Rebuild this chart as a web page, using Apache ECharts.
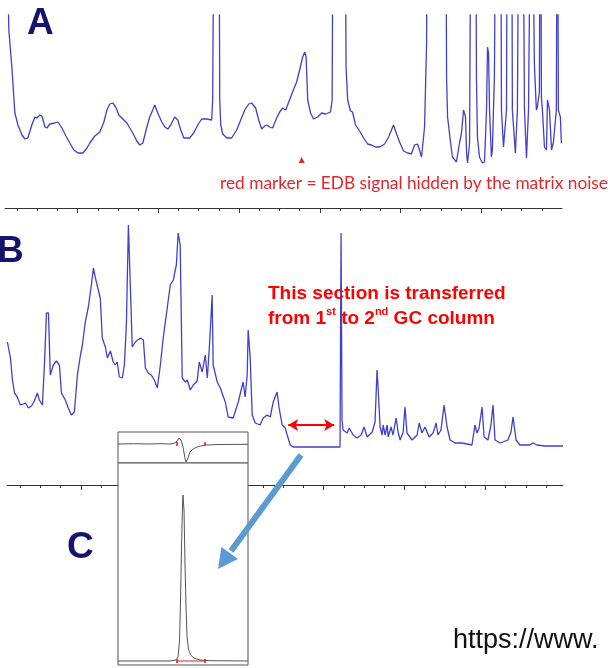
<!DOCTYPE html>
<html>
<head>
<meta charset="utf-8">
<script src="https://cdn.jsdelivr.net/npm/echarts@6/dist/echarts.min.js"></script>
<style>html,body{margin:0;padding:0;background:#fff}#c{width:608px;height:668px}</style>
</head>
<body>
<div id="c"></div>
<script>
// ---- Panel A: 1D GC chromatogram (time in min, signal in counts) ----
const aTrace = [[0.52,250],[0.59,178],[0.74,141],[0.89,95],[1.04,83],[1.24,73],[1.39,69],[1.53,70],[1.73,83],[1.88,91],[1.98,90],[2.13,93],[2.23,92],[2.38,81],[2.48,80],[2.62,84],[2.87,85],[3.02,86],[3.22,80],[3.42,72],[3.61,65],[3.81,58],[4.01,55],[4.26,55],[4.46,60],[4.60,65],[4.85,72],[5.10,76],[5.30,86],[5.45,98],[5.59,104],[5.74,105],[5.89,101],[6.04,93],[6.19,90],[6.44,85],[6.73,75],[6.93,67],[7.08,63],[7.23,65],[7.43,81],[7.57,91],[7.72,98],[7.82,103],[7.97,95],[8.17,86],[8.32,81],[8.47,79],[8.61,83],[8.81,91],[8.96,88],[9.11,78],[9.26,70],[9.55,70],[9.75,75],[9.95,83],[10.15,89],[10.40,89],[10.64,88],[10.69,108],[10.79,420],[10.99,420],[11.04,108],[11.09,83],[11.19,74],[11.39,70],[11.63,70],[11.88,78],[12.08,88],[12.28,98],[12.48,104],[12.62,105],[12.82,100],[12.97,88],[13.12,79],[13.27,82],[13.37,83],[13.51,81],[13.66,80],[13.86,90],[14.01,96],[14.16,100],[14.31,98],[14.46,106],[14.65,116],[14.85,126],[15.00,138],[15.15,151],[15.25,156],[15.32,151],[15.40,108],[15.54,95],[15.69,89],[15.89,91],[16.09,95],[16.29,94],[16.53,96],[16.61,108],[16.68,420],[17.23,420],[17.30,141],[17.38,108],[17.52,97],[17.62,96],[17.77,83],[17.97,77],[18.17,70],[18.37,64],[18.56,63],[18.76,61],[18.96,61],[19.21,64],[19.41,71],[19.55,78],[19.65,83],[19.75,77],[19.95,66],[20.15,57],[20.35,55],[20.54,54],[20.69,63],[20.84,64],[20.94,58],[21.04,51],[21.19,81],[21.29,165],[21.34,420],[22.23,420],[22.28,131],[22.33,91],[22.48,65],[22.57,51],[22.77,46],[22.82,48],[22.92,65],[23.02,75],[23.12,98],[23.22,91],[23.27,55],[23.32,45],[23.42,65],[23.51,420],[23.71,420],[23.76,131],[23.81,71],[23.91,51],[24.06,45],[24.16,46],[24.26,98],[24.31,161],[24.36,155],[24.41,98],[24.50,51],[24.55,58],[24.65,131],[24.75,420],[24.95,420],[25.00,98],[25.10,61],[25.25,98],[25.30,420],[25.50,420],[25.54,98],[25.69,55],[25.79,98],[25.89,420],[26.04,420],[26.14,98],[26.24,50],[26.34,98],[26.49,420],[26.53,420],[26.63,145],[26.73,98],[26.78,101],[26.88,116],[26.93,420],[26.98,111],[27.03,98],[27.13,61],[27.23,58],[27.28,108],[27.38,98],[27.48,58],[27.57,65],[27.72,98],[27.77,420],[27.82,98],[27.92,91],[27.97,65]];
const aMarker = [15.1, 48];              // EDB position (time, signal)
const aMajorTicks = [4, 8, 12, 16, 20, 24];
const aMinorTicks = [1,2,3,5,6,7,9,10,11,13,14,15,17,18,19,21,22,23,25,26,27];

// ---- Panel B: chromatogram with heart-cut window ----
const bTrace = [[0.37,143],[0.52,127],[0.62,105],[0.72,92],[0.86,88],[1.01,80],[1.16,81],[1.26,82],[1.41,77],[1.56,79],[1.70,84],[1.85,92],[1.95,85],[2.10,80],[2.20,120],[2.30,172],[2.40,172],[2.49,110],[2.64,120],[2.79,124],[2.94,120],[3.04,92],[3.23,85],[3.38,77],[3.53,70],[3.68,73],[3.83,110],[3.98,130],[4.07,139],[4.22,163],[4.37,178],[4.52,200],[4.62,217],[4.72,207],[4.81,205],[4.96,187],[5.06,147],[5.21,138],[5.31,127],[5.46,134],[5.60,123],[5.70,120],[5.80,123],[5.90,108],[6.05,107],[6.15,120],[6.25,160],[6.35,260],[6.44,203],[6.54,138],[6.69,143],[6.94,147],[7.09,145],[7.19,117],[7.33,112],[7.48,110],[7.63,105],[7.78,97],[7.93,120],[8.07,147],[8.27,177],[8.42,200],[8.57,205],[8.72,220],[8.81,252],[8.91,240],[9.01,107],[9.16,103],[9.26,105],[9.41,95],[9.56,100],[9.75,104],[9.85,123],[10.0,113],[10.15,130],[10.25,107],[10.35,137],[10.49,190],[10.54,120],[10.74,103],[10.89,97],[11.14,83],[11.28,68],[11.53,67],[11.78,83],[12.02,103],[12.12,88],[12.22,110],[12.27,155],[12.37,127],[12.47,70],[12.62,62],[12.86,60],[13.01,67],[13.21,70],[13.36,68],[13.51,83],[13.70,93],[13.80,77],[13.95,60],[14.10,57],[14.20,50],[14.35,40],[14.49,38],[16.81,38],[16.86,252],[16.91,65],[16.96,55],[17.16,52],[17.26,57],[17.46,50],[17.65,47],[17.85,50],[18.00,58],[18.15,48],[18.40,53],[18.54,63],[18.64,115],[18.69,98],[18.79,58],[18.89,50],[18.94,60],[19.04,50],[19.14,60],[19.19,48],[19.33,58],[19.43,50],[19.58,67],[19.68,53],[19.78,45],[19.93,53],[20.02,78],[20.12,52],[20.37,45],[20.62,50],[20.72,62],[20.86,52],[21.01,58],[21.11,53],[21.21,48],[21.41,52],[21.56,62],[21.65,50],[21.80,55],[21.95,80],[22.10,58],[22.25,45],[22.49,42],[22.84,42],[23.33,40],[23.48,60],[23.58,52],[23.68,57],[23.83,78],[23.93,48],[24.12,45],[24.27,60],[24.37,80],[24.47,45],[24.72,42],[25.11,45],[25.26,53],[25.36,68],[25.51,45],[25.70,40],[26.20,40],[26.35,42],[26.54,40],[26.94,39],[27.83,39]];
const bCutWindow = [14.25, 16.52];      // transferred section (min)
const bCutLevel = 60;
const bMajorTicks = [4, 8, 12, 16, 20, 24];
const bMinorTicks = [1,2,3,5,6,7,9,10,11,13,14,15,17,18,19,21,22,23,25,26,27];

// ---- Panel C: 2nd column (inset) ----
const c1Trace = [[0,0],[1.2,0.3],[2.46,0],[3.3,0.3],[4.0,0],[4.38,1],[4.54,3],[4.69,6],[4.85,4],[5.0,-3],[5.15,-14],[5.23,-18],[5.38,-14],[5.54,-8],[5.77,-5],[6.08,-3],[6.69,-1],[7.85,-0.5],[10,-0.3]];
const c2Trace = [[0,0],[2.0,0],[4.0,0],[4.46,1],[4.62,4],[4.73,20],[4.81,60],[4.88,110],[4.96,155],[5.0,166],[5.08,150],[5.15,100],[5.23,55],[5.31,25],[5.42,12],[5.58,6],[5.85,3],[6.31,1],[7.08,0.3],[10,0]];
const cMarkers = [4.54, 6.69];
const c2PeakLabel = '1997.48';

const BLUE = '#4040ca';
const RED_A = '#e3262b';
const RED_B = '#ff0000';
const NAVY = '#14146e';

const chart = echarts.init(document.getElementById('c'), null, {renderer: 'canvas'});

function tickAxis(grid, min, max, ticks, len, showLine) {
  return {
    type: 'value', gridIndex: grid, min: min, max: max, position: 'bottom',
    axisLine: {show: showLine, onZero: false, lineStyle: {color: '#333', width: 1}},
    axisTick: {show: true, customValues: ticks, length: len, lineStyle: {color: '#333', width: 1}},
    axisLabel: {show: false}, splitLine: {show: false}, z: 1
  };
}
const hiddenX = (g, min, max) => ({type: 'value', gridIndex: g, min: min, max: max, show: false});
const hiddenY = (g, min, max) => ({type: 'value', gridIndex: g, min: min, max: max, show: false});

const option = {
  animation: false,
  backgroundColor: '#fff',
  grid: [
    {left: 5, top: 15, width: 557, height: 193},
    {left: 7, top: 205, width: 556, height: 280},
    {left: 118, top: 432, width: 130, height: 31, show: true, backgroundColor: '#fff', borderColor: '#555', borderWidth: 1, z: 10},
    {left: 118, top: 463, width: 130, height: 202, show: true, backgroundColor: '#fff', borderColor: '#555', borderWidth: 1, z: 10}
  ],
  xAxis: [
    tickAxis(0, 0.4, 28, aMajorTicks, 5, true),
    tickAxis(0, 0.4, 28, aMinorTicks, 3, false),
    tickAxis(1, 0.35, 27.83, bMajorTicks, 5, true),
    tickAxis(1, 0.35, 27.83, bMinorTicks, 3, false),
    hiddenX(2, 0, 10),
    hiddenX(3, 0, 10)
  ],
  yAxis: [
    hiddenY(0, 0, 193),
    hiddenY(1, 0, 280),
    hiddenY(2, -19, 12),
    hiddenY(3, -4, 198)
  ],
  series: [
    {
      type: 'line', xAxisIndex: 0, yAxisIndex: 0, data: aTrace, showSymbol: false, clip: true,
      lineStyle: {color: BLUE, width: 1.3},
      markPoint: {
        symbol: 'triangle', symbolSize: [6, 6], itemStyle: {color: RED_A}, label: {show: false},
        data: [{coord: aMarker}]
      }
    },
    {
      type: 'line', xAxisIndex: 2, yAxisIndex: 1, data: bTrace, showSymbol: false, clip: true,
      lineStyle: {color: BLUE, width: 1.3},
      markLine: {
        silent: true, symbol: ['arrow', 'arrow'], symbolSize: [9, 10],
        lineStyle: {color: RED_B, width: 2, type: 'solid'}, label: {show: false},
        data: [[{coord: [bCutWindow[0], bCutLevel]}, {coord: [bCutWindow[1], bCutLevel]}]]
      }
    },
    {
      type: 'line', xAxisIndex: 4, yAxisIndex: 2, data: c1Trace, showSymbol: false, z: 12,
      lineStyle: {color: '#555', width: 1}
    },
    {
      type: 'scatter', xAxisIndex: 4, yAxisIndex: 2, z: 13, symbol: 'rect', symbolSize: [2, 4],
      itemStyle: {color: '#e02020'}, data: cMarkers.map(t => [t, 0])
    },
    {
      type: 'line', xAxisIndex: 5, yAxisIndex: 3, data: c2Trace, showSymbol: false, z: 12,
      lineStyle: {color: '#555', width: 1},
      markPoint: {
        symbol: 'rect', symbolSize: [1, 1], itemStyle: {color: '#e02020'},
        label: {show: true, position: 'top', distance: 2, formatter: c2PeakLabel, fontSize: 5, color: '#e02020'},
        data: [{coord: [5.0, 166]}]
      }
    },
    {
      type: 'line', xAxisIndex: 5, yAxisIndex: 3, z: 13, showSymbol: false,
      lineStyle: {color: '#e02020', width: 1}, data: cMarkers.map(t => [t, 0])
    },
    {
      type: 'scatter', xAxisIndex: 5, yAxisIndex: 3, z: 14, symbol: 'rect', symbolSize: [2, 4],
      itemStyle: {color: '#e02020'}, data: cMarkers.map(t => [t, 0])
    }
  ],
  graphic: [
    {type: 'text', x: 27, y: 24, z: 100, style: {text: 'A', fontSize: 37, fontWeight: 'bold', fontFamily: 'Liberation Sans, Arial', fill: NAVY, align: 'left', verticalAlign: 'middle'}},
    {type: 'text', x: -3, y: 252, z: 100, style: {text: 'B', fontSize: 37, fontWeight: 'bold', fontFamily: 'Liberation Sans, Arial', fill: NAVY, align: 'left', verticalAlign: 'middle'}},
    {type: 'text', x: 67, y: 548, z: 100, style: {text: 'C', fontSize: 37, fontWeight: 'bold', fontFamily: 'Liberation Sans, Arial', fill: NAVY, align: 'left', verticalAlign: 'middle'}},
    {type: 'text', x: 220, y: 183, z: 100, style: {text: 'red marker = EDB signal hidden by the matrix noise', fontSize: 17.3, fontFamily: 'Lato', fill: RED_A, align: 'left', verticalAlign: 'middle'}},
    {type: 'text', x: 268, y: 281, z: 100, style: {
      text: 'This section is transferred\nfrom 1{sup|st} to 2{sup|nd} GC column',
      fontSize: 19, fontWeight: 'bold', fontFamily: 'Liberation Sans, Arial', fill: RED_B, lineHeight: 25,
      align: 'left', verticalAlign: 'top',
      rich: {sup: {fontSize: 11, fontWeight: 'bold', fontFamily: 'Liberation Sans, Arial', fill: RED_B, lineHeight: 14, verticalAlign: 'top'}}
    }},
    {type: 'text', x: 453, y: 641, z: 100, style: {text: 'https://www.', fontSize: 27, fontFamily: 'Liberation Sans, Arial', fill: '#111', align: 'left', verticalAlign: 'middle'}},
    {type: 'line', z: 100, shape: {x1: 301, y1: 455, x2: 231, y2: 551}, style: {stroke: '#5b9bd5', lineWidth: 6}},
    {type: 'polygon', z: 100, shape: {points: [[218, 569], [238, 559], [221.5, 547]]}, style: {fill: '#5b9bd5'}}
  ]
};
chart.setOption(option);
</script>
</body>
</html>
